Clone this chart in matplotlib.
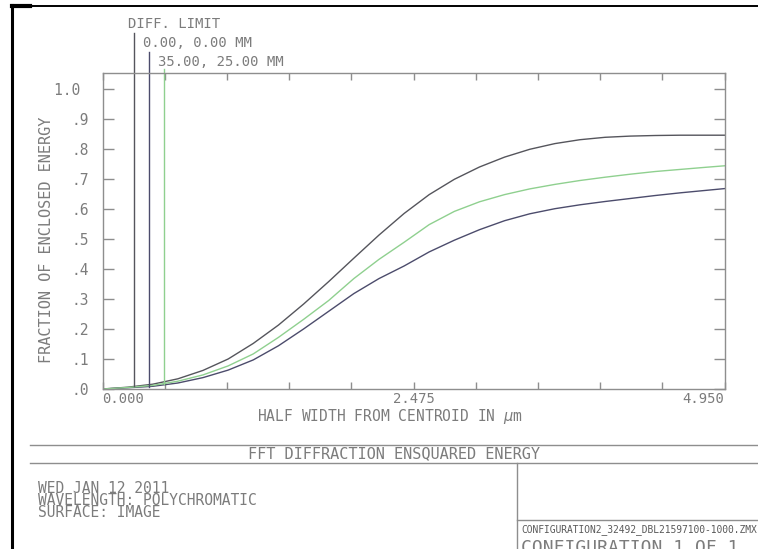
import numpy as np
import matplotlib
matplotlib.use("Agg")
import matplotlib.pyplot as plt
from matplotlib.lines import Line2D

# Half width from centroid (micrometres) at which the curves are sampled
half_width = [0.0, 0.2, 0.4, 0.6, 0.8, 1.0, 1.2, 1.4, 1.6, 1.8, 2.0, 2.2, 2.4,
              2.6, 2.8, 3.0, 3.2, 3.4, 3.6, 3.8, 4.0, 4.2, 4.4, 4.6, 4.8, 4.95]

# Fraction of enclosed (ensquared) energy
diff_limit = [0.0, 0.006, 0.016, 0.034, 0.062, 0.100, 0.152, 0.213, 0.283,
              0.358, 0.436, 0.513, 0.585, 0.648, 0.699, 0.740, 0.773, 0.799,
              0.818, 0.831, 0.839, 0.843, 0.845, 0.846, 0.846, 0.846]
field_0_0 = [0.0, 0.004, 0.009, 0.020, 0.038, 0.063, 0.097, 0.144, 0.200,
             0.259, 0.318, 0.368, 0.410, 0.457, 0.496, 0.531, 0.561, 0.584,
             0.601, 0.614, 0.625, 0.635, 0.645, 0.654, 0.662, 0.668]
field_35_25 = [0.0, 0.005, 0.012, 0.026, 0.047, 0.077, 0.117, 0.172, 0.232,
               0.295, 0.368, 0.432, 0.489, 0.548, 0.592, 0.624, 0.648, 0.667,
               0.682, 0.695, 0.706, 0.716, 0.725, 0.732, 0.739, 0.744]

# Legend entries and their marker positions on the x axis
legend_labels = ["DIFF. LIMIT", "0.00, 0.00 MM", "35.00, 25.00 MM"]
legend_x = [0.248, 0.367, 0.487]

x_tick_values = [round(0.495 * i, 3) for i in range(11)]
x_tick_labels = ["0.000", "", "", "", "", "2.475", "", "", "", "", "4.950"]
y_tick_values = [round(0.1 * i, 1) for i in range(11)]
y_tick_labels = [".0", ".1", ".2", ".3", ".4", ".5", ".6", ".7", ".8", ".9", "1.0 "]

title = "FFT DIFFRACTION ENSQUARED ENERGY"
info_lines = ["WED JAN 12 2011", "WAVELENGTH: POLYCHROMATIC", "SURFACE: IMAGE"]
file_name = "CONFIGURATION2_32492_DBL21597100-1000.ZMX"
config_text = "CONFIGURATION 1 OF 1"

W, H = 758, 549
TEXT = "#7c7c7c"
AXIS = "#8e8e8e"
MONO = "DejaVu Sans Mono"
colors = ["#55555c", "#4c4c6c", "#8fd08f"]
series = [diff_limit, field_0_0, field_35_25]

plt.rcParams["font.family"] = [MONO, "DejaVu Sans"]

fig = plt.figure(figsize=(W / 100, H / 100), dpi=100)
fig.patch.set_facecolor("white")


def fx(px):
    return px / W


def fy(py):
    return 1 - py / H


# Plot area
left, right, top, bottom = 102.5, 724.5, 73, 389
ax = fig.add_axes([fx(left), fy(bottom), (right - left) / W, (bottom - top) / H])
ax.set_xlim(0, 4.95)
ax.set_ylim(0, (bottom - top) / 300)

for ys, c in zip(series, colors):
    ax.plot(half_width, ys, color=c, lw=1.0, solid_joinstyle="round")

# Legend markers: vertical lines rising from the curves to their labels
label_y = [1.217, 1.153, 1.090]
line_top = [1.187, 1.125, 1.068]
for lab, xv, ly, lt, ys, c in zip(legend_labels, legend_x, label_y, line_top,
                                  series, colors):
    yb = float(np.interp(xv, half_width, ys))
    ax.plot([xv, xv], [yb, lt], color=c, lw=1.0, clip_on=False)
    ax.text(xv - 0.048, ly, lab, color=TEXT, fontsize=10, family=MONO,
            ha="left", va="center", clip_on=False)

for s in ax.spines.values():
    s.set_color(AXIS)
    s.set_linewidth(1.0)

ax.set_xticks(x_tick_values)
ax.set_xticklabels(x_tick_labels)
ax.set_yticks(y_tick_values)
ax.set_yticklabels(y_tick_labels)
ax.tick_params(axis="x", direction="in", length=5, width=1, color=AXIS,
               top=True, bottom=True, labelsize=10, labelcolor=TEXT, pad=2)
ax.tick_params(axis="y", direction="in", length=8, width=1, color=AXIS,
               left=True, right=True, labelsize=10.5, labelcolor=TEXT, pad=10)
xl = ax.get_xticklabels()
xl[0].set_ha("left")
xl[-1].set_ha("right")

fig.text(fx(390), fy(417), "HALF WIDTH FROM CENTROID IN $\\mu$m", color=TEXT,
         fontsize=10.5, ha="center", va="center")
fig.text(fx(47), fy(240), "FRACTION OF ENCLOSED ENERGY", color=TEXT,
         fontsize=11, rotation=90, ha="center", va="center")

# Outer frame
fig.add_artist(Line2D([fx(12), fx(12)], [fy(5), fy(H)], color="black", lw=2.2))
fig.add_artist(Line2D([fx(12), fx(W)], [fy(6), fy(6)], color="black", lw=1.4))
fig.add_artist(Line2D([fx(12), fx(30)], [fy(6), fy(6)], color="black", lw=3.0))

# Title block
for y in (445, 463):
    fig.add_artist(Line2D([fx(30), fx(W)], [fy(y), fy(y)], color=AXIS, lw=1.0))
fig.add_artist(Line2D([fx(517), fx(517)], [fy(463), fy(H)], color=AXIS, lw=1.0))
fig.add_artist(Line2D([fx(517), fx(W)], [fy(520), fy(520)], color=AXIS, lw=1.0))

fig.text(fx(394), fy(454), title, color=TEXT, fontsize=11, ha="center",
         va="center")
fig.text(fx(38), fy(481), "\n".join(info_lines), color=TEXT, fontsize=10.5,
         ha="left", va="top", linespacing=0.74)
fig.text(fx(521), fy(530), file_name, color="#5a5a5a", fontsize=6.9,
         ha="left", va="center")
fig.text(fx(521), fy(539), config_text, color=TEXT, fontsize=13,
         ha="left", va="top")

fig.savefig("out.png", dpi=100, facecolor="white")
